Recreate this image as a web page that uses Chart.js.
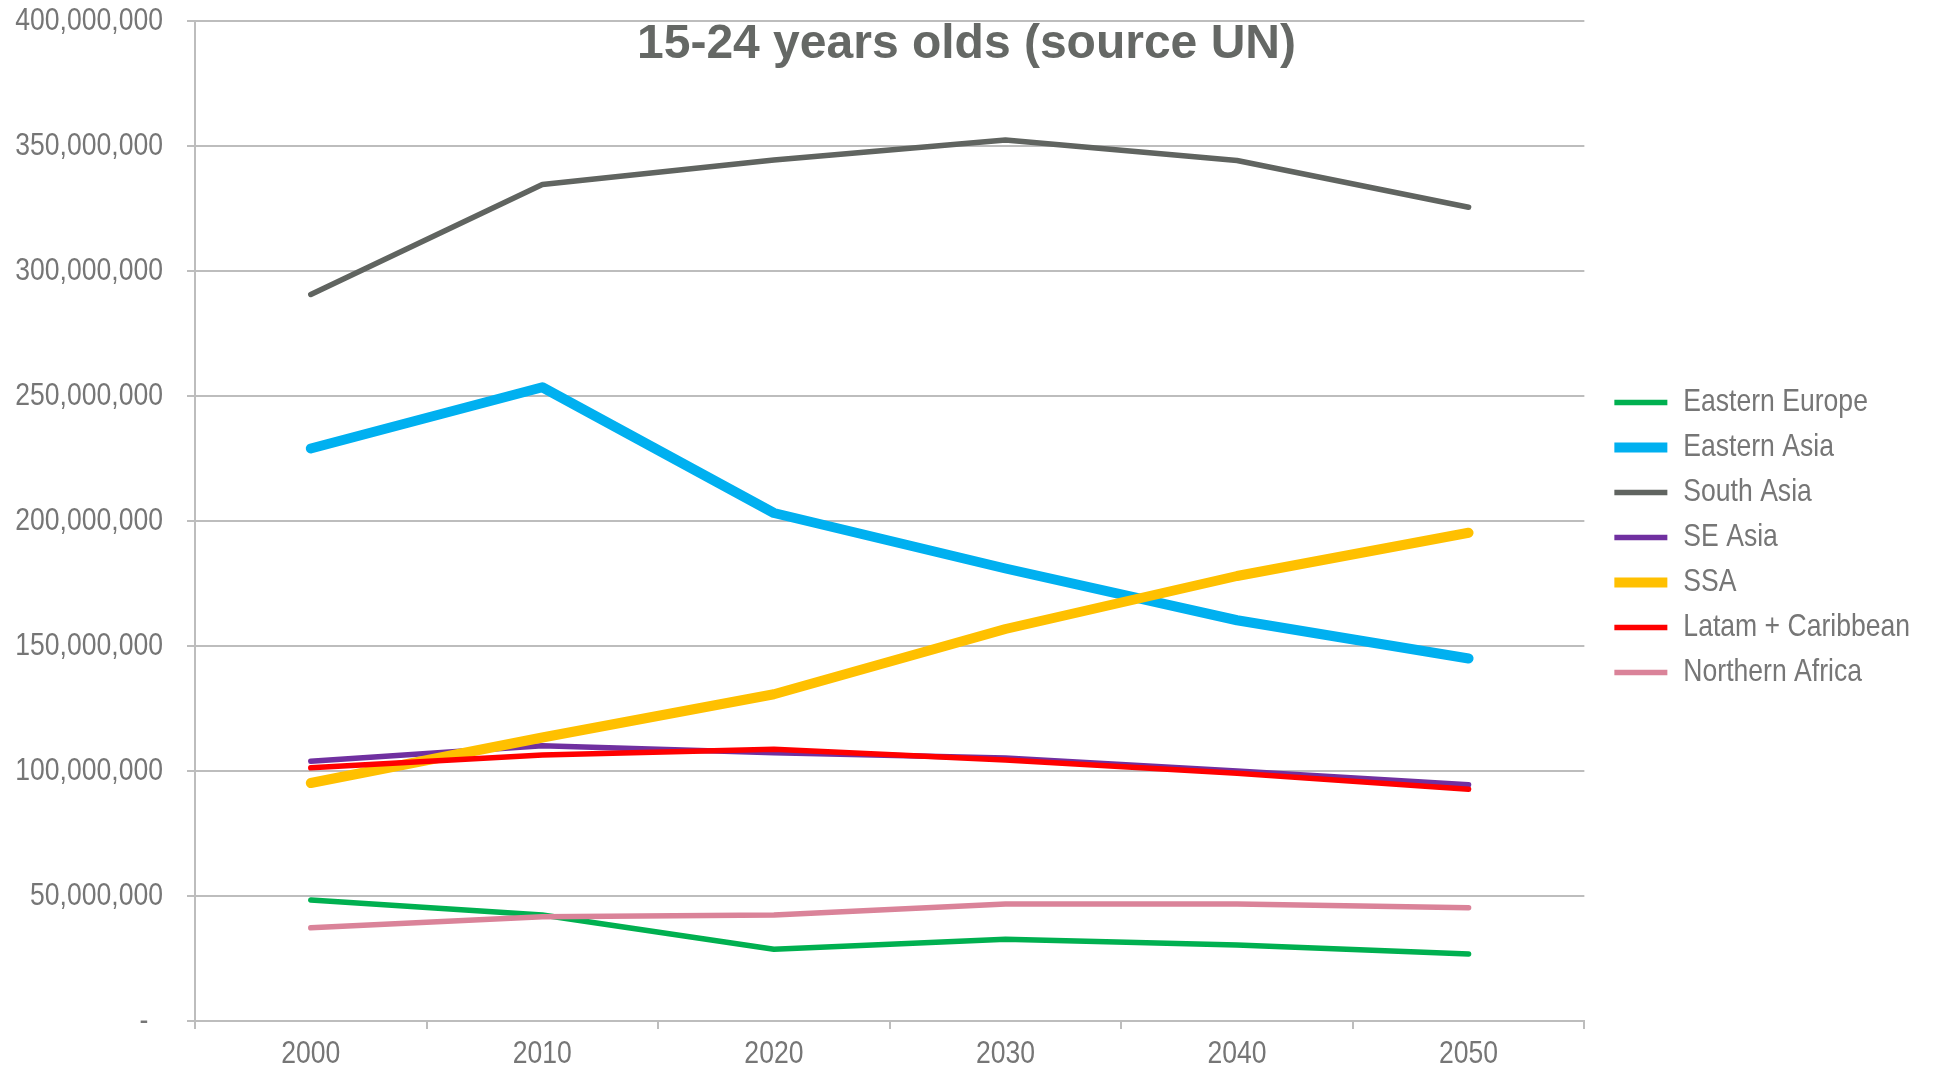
<!DOCTYPE html>
<html>
<head>
<meta charset="utf-8">
<script src="https://cdn.jsdelivr.net/npm/chart.js@4.4.1/dist/chart.umd.min.js"></script>
<style>
    html, body { margin: 0; padding: 0; background: #fff; }
    #wrap { position: relative; width: 1933px; height: 1066px; }
    #title {
        position: absolute; left: 0; top: 18px; width: 1933px;
        text-align: center; font: bold 48px/48px "Liberation Sans", Arial, sans-serif;
        color: #656865; pointer-events: none;
    }
</style>
</head>
<body>
<div id="wrap">
    <canvas id="chart" width="1933" height="1066"></canvas>
    <div id="title">15-24 years olds (source UN)</div>
</div>
<script>
// Dane (osoby w wieku 15-24 lata)
const years = ['2000', '2010', '2020', '2030', '2040', '2050'];
const easternEurope = [48400000, 42400000, 28700000, 32700000, 30400000, 26800000];
const easternAsia = [229000000, 253500000, 203200000, 181000000, 160300000, 145000000];
const southAsia = [290600000, 334600000, 344400000, 352400000, 344200000, 325500000];
const seAsia = [103900000, 110100000, 107300000, 105200000, 100000000, 94500000];
const ssa = [95200000, 113400000, 130700000, 156800000, 178000000, 195300000];
const latam = [101300000, 106400000, 108700000, 104400000, 99100000, 92700000];
const northernAfrica = [37300000, 41700000, 42400000, 46800000, 46800000, 45300000];

const seriesNames = ['Eastern Europe', 'Eastern Asia', 'South Asia', 'SE Asia', 'SSA', 'Latam + Caribbean', 'Northern Africa'];
const seriesData = [easternEurope, easternAsia, southAsia, seAsia, ssa, latam, northernAfrica];
const seriesColors = ['#00b050', '#00b0f0', '#606460', '#7030a0', '#ffc000', '#ff0000', '#da8399'];
const seriesWidths = [5.5, 10, 5.5, 5.5, 10, 5.5, 5.5];

const textColor = '#767676';
const gridColor = '#bdbdbd';
const fontFamily = '"Liberation Sans", Arial, sans-serif';
const labelSize = 32;
const NARROW = 0.83; // brak Arial Narrow - zwężamy tekst ręcznie

const ctx = document.getElementById('chart').getContext('2d');

// Zwężony tekst dla etykiet osi i legendy (czcionka 32px)
const baseFill = ctx.fillText;
const baseMeasure = ctx.measureText;
const isNarrow = (c) => c.font.indexOf(labelSize + 'px') !== -1;
ctx.fillText = function (text, x, y, maxWidth) {
    if (!isNarrow(this)) {
        return baseFill.apply(this, arguments);
    }
    this.save();
    this.translate(x, y);
    this.scale(NARROW, 1);
    if (maxWidth === undefined) {
        baseFill.call(this, text, 0, 0);
    } else {
        baseFill.call(this, text, 0, 0, maxWidth / NARROW);
    }
    this.restore();
};
ctx.measureText = function (text) {
    const m = baseMeasure.call(this, text);
    if (!isNarrow(this)) return m;
    return {
        width: m.width * NARROW,
        actualBoundingBoxAscent: m.actualBoundingBoxAscent,
        actualBoundingBoxDescent: m.actualBoundingBoxDescent
    };
};

// Legenda trochę wyżej niż domyślne wyśrodkowanie
const legendShift = {
    id: 'legendShift',
    afterLayout(chart) {
        if (chart.legend) {
            chart.legend.top -= 6;
            chart.legend.bottom -= 6;
        }
    }
};

const datasets = seriesNames.map((name, i) => ({
    label: name,
    data: seriesData[i],
    borderColor: seriesColors[i],
    backgroundColor: seriesColors[i],
    borderWidth: seriesWidths[i],
    borderCapStyle: 'round',
    borderJoinStyle: 'round',
    pointRadius: 0,
    pointHoverRadius: 0,
    tension: 0,
    fill: false,
    order: -i // późniejsze serie rysowane na wierzchu, jak w Excelu
}));

const chart = new Chart(ctx, {
    type: 'line',
    data: {
        labels: years,
        datasets: datasets
    },
    plugins: [legendShift],
    options: {
        responsive: false,
        animation: false,
        layout: {
            padding: { top: 21, right: 13, bottom: 0, left: 0 }
        },
        plugins: {
            title: { display: false },
            tooltip: { enabled: false },
            legend: {
                position: 'right',
                align: 'center',
                labels: {
                    color: textColor,
                    font: { family: fontFamily, size: labelSize, lineHeight: 1 },
                    usePointStyle: true,
                    pointStyle: 'line',
                    pointStyleWidth: 53,
                    padding: 13,
                    sort: (a, b) => a.datasetIndex - b.datasetIndex
                }
            }
        },
        scales: {
            x: {
                offset: true,
                afterFit: (scale) => { scale.height = 45; },
                grid: {
                    offset: true,
                    drawOnChartArea: false,
                    drawTicks: true,
                    tickLength: 8,
                    color: gridColor,
                    lineWidth: 2
                },
                border: { display: true, color: gridColor, width: 2 },
                ticks: {
                    color: textColor,
                    font: { family: fontFamily, size: labelSize, lineHeight: 1 },
                    padding: 9,
                    maxRotation: 0
                }
            },
            y: {
                min: 0,
                max: 400000000,
                afterFit: (scale) => {
                    scale.width = 195;
                    scale.paddingTop = 0;
                    scale.paddingBottom = 0;
                },
                grid: {
                    color: gridColor,
                    lineWidth: 2,
                    drawTicks: true,
                    tickLength: 8
                },
                border: { display: true, color: gridColor, width: 2 },
                ticks: {
                    stepSize: 50000000,
                    color: textColor,
                    font: { family: fontFamily, size: labelSize, lineHeight: 1 },
                    padding: 24,
                    callback: (value) => value === 0 ? '-  ' : value.toLocaleString('en-US')
                }
            },
            gap: {
                position: 'right',
                display: true,
                afterFit: (scale) => { scale.width = 17; },
                grid: { display: false },
                border: { display: false },
                ticks: { display: false }
            }
        }
    }
});
</script>
</body>
</html>
